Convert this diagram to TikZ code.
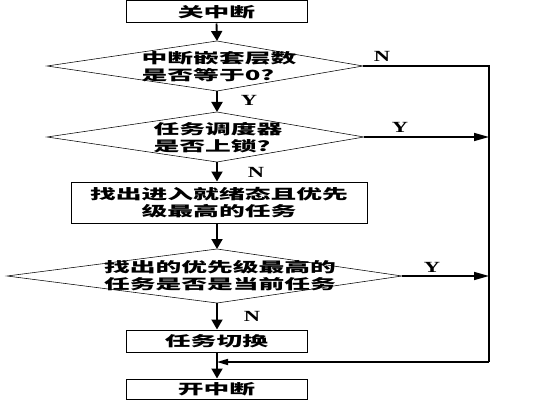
\documentclass[tikz,border=0pt]{standalone}
\usepackage{fontspec}
\newfontfamily\cjkfont{Noto Sans CJK SC}[FakeStretch=1.84]
\newfontfamily\ynfont{Liberation Serif}[FakeStretch=1.45]
\usetikzlibrary{arrows.meta}

% decision: name, top y, bottom y, left x, right x
\newcommand{\decision}[5]{%
    \coordinate (#1-t) at (217,#2);
    \coordinate (#1-b) at (217,#3);
    \coordinate (#1-l) at (#4,{(#2+#3)/2});
    \coordinate (#1-r) at (#5,{(#2+#3)/2});
    \draw[dia] (#1-t) -- (#1-r) -- (#1-b) -- (#1-l) -- cycle;}

\begin{document}
\begin{tikzpicture}[x=1pt,y=-1pt,
    cjk/.style={font=\cjkfont\bfseries\fontsize{14}{17}\selectfont},
    proc/.style={draw,cjk,line width=1pt,minimum width=181pt,minimum height=22pt,inner sep=0pt},
    txt/.style={cjk,inner sep=0pt,align=left},
    yn/.style={font=\ynfont\bfseries\fontsize{15.5}{15.5}\selectfont,inner sep=0pt},
    dia/.style={line width=0.55pt},
    flow/.style={line width=1.9pt,-{Triangle[length=10pt,width=11pt]}},
    side/.style={line width=1.6pt,-{Triangle[length=15pt,width=8pt]}}]
    \useasboundingbox (0,0) rectangle (540,401);

    \node[proc] (off) at (216.5,12) {关中断};
    \decision{d1}{41}{91}{47}{363}
    \node[txt] (d1txt) at (219,67) {中断嵌套层数\\是否等于0?};
    \decision{d2}{112}{162}{47}{364}
    \node[txt] (d2txt) at (218,138) {任务调度器\\是否上锁?};
    \node[proc,minimum width=296pt,minimum height=41pt,align=center] (find) at (219,202.5) {找出进入就绪态且优先\\级最高的任务};
    \decision{d3}{249}{303}{7}{402}
    \node[txt] (d3txt) at (220,276) {找出的优先级最高的\\任务是否是当前任务};
    \node[proc] (sw) at (216.5,341) {任务切换};
    \node[proc,minimum height=20pt] (on) at (216.5,389) {开中断};

    \coordinate (rt) at (489,66);
    \coordinate (rb) at (489,362);
    \coordinate (join) at (217,362);

    % main flow
    \draw[flow] (off.south) -- (d1-t);
    \draw[flow] (d1-b) -- (d2-t);
    \draw[flow] (d2-b) -- (find.north -| d2-b);
    \draw[flow] (find.south -| d2-b) -- (d3-t);
    \draw[flow] (d3-b) -- (sw.north -| d3-b);
    \draw[flow] (sw.south -| d3-b) -- (on.north -| d3-b);

    % right side
    \draw[line width=2.2pt] (d1-r) -- (rt) -- (rb);
    \draw[line width=1.6pt,-{Triangle[length=11pt,width=6pt]}] (rb) -- (join);
    \draw[side] (d2-r) -- (d2-r -| rt);
    \draw[side] (d3-r) -- (d3-r -| rt);

    \node[yn] (n1) at (382,56) {N};
    \node[yn] (y1) at (249,100) {Y};
    \node[yn] (y2) at (400,127) {Y};
    \node[yn] (n2) at (256,172) {N};
    \node[yn] (y3) at (432,267) {Y};
    \node[yn] (n3) at (252,316) {N};
\end{tikzpicture}
\end{document}
